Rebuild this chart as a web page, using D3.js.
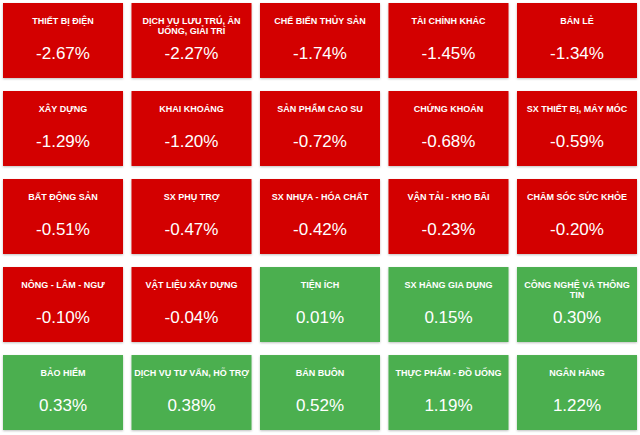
<!DOCTYPE html>
<html>
<head>
<meta charset="utf-8">
<script src="https://cdn.jsdelivr.net/npm/d3@7"></script>
<style>
  body { margin: 0; background: #fff; }
  svg { display: block; font-family: "Liberation Sans", Arial, sans-serif; }
</style>
</head>
<body>
<svg id="chart" width="640" height="435"></svg>
<script>
// sector names, in reading order (row by row)
const sectors = [
  "THIẾT BỊ ĐIỆN", "DỊCH VỤ LƯU TRÚ, ĂN UỐNG, GIẢI TRÍ", "CHẾ BIẾN THỦY SẢN", "TÀI CHÍNH KHÁC", "BÁN LẺ",
  "XÂY DỰNG", "KHAI KHOÁNG", "SẢN PHẨM CAO SU", "CHỨNG KHOÁN", "SX THIẾT BỊ, MÁY MÓC",
  "BẤT ĐỘNG SẢN", "SX PHỤ TRỢ", "SX NHỰA - HÓA CHẤT", "VẬN TẢI - KHO BÃI", "CHĂM SÓC SỨC KHỎE",
  "NÔNG - LÂM - NGƯ", "VẬT LIỆU XÂY DỰNG", "TIỆN ÍCH", "SX HÀNG GIA DỤNG", "CÔNG NGHỆ VÀ THÔNG TIN",
  "BẢO HIỂM", "DỊCH VỤ TƯ VẤN, HỖ TRỢ", "BÁN BUÔN", "THỰC PHẨM - ĐỒ UỐNG", "NGÂN HÀNG"
];
// daily change, %
const changes = [
  -2.67, -2.27, -1.74, -1.45, -1.34,
  -1.29, -1.20, -0.72, -0.68, -0.59,
  -0.51, -0.47, -0.42, -0.23, -0.20,
  -0.10, -0.04, 0.01, 0.15, 0.30,
  0.33, 0.38, 0.52, 1.19, 1.22
];
const nCols = 5;

const data = sectors.map((s, i) => ({
  name: s, value: changes[i],
  col: i % nCols, row: Math.floor(i / nCols)
}));

const svg = d3.select("#chart");

const x = d3.scaleBand()
  .domain(d3.range(nCols))
  .range([3, 637])
  .paddingInner(0.066);

const y = d3.scaleBand()
  .domain(d3.range(Math.ceil(data.length / nCols)))
  .range([3, 430])
  .paddingInner(0.148);

// soft shadow under each tile
const defs = svg.append("defs");
defs.append("filter")
    .attr("id", "shadow")
    .attr("x", "-10%").attr("y", "-10%")
    .attr("width", "120%").attr("height", "130%")
  .append("feDropShadow")
    .attr("dx", 0).attr("dy", 1)
    .attr("stdDeviation", 1.2)
    .attr("flood-color", "#000")
    .attr("flood-opacity", 0.25);

const color = v => v < 0 ? "#d30000" : "#4caf50";
const fmt = v => d3.format(".2f")(v).replace("\u2212", "-") + "%";

const tiles = svg.selectAll("g.tile")
  .data(data)
  .join("g")
    .attr("class", "tile")
    .attr("transform", d => `translate(${x(d.col)},${y(d.row)})`);

tiles.append("rect")
  .attr("width", x.bandwidth())
  .attr("height", y.bandwidth())
  .attr("fill", d => color(d.value))
  .attr("filter", "url(#shadow)");

// title, wrapped to the tile width
const title = tiles.append("text")
  .attr("text-anchor", "middle")
  .attr("fill", "#fff")
  .attr("font-size", 9)
  .attr("font-weight", "bold")
  .attr("transform", `translate(${x.bandwidth() / 2},21)`);

title.each(function(d) {
  const t = d3.select(this);
  const words = d.name.split(" ");
  let line = [];
  let lineNo = 0;
  let tspan = t.append("tspan").attr("x", 0).attr("y", 0);
  words.forEach(w => {
    line.push(w);
    tspan.text(line.join(" "));
    if (tspan.node().getComputedTextLength() > 118 && line.length > 1) {
      line.pop();
      tspan.text(line.join(" "));
      line = [w];
      lineNo++;
      tspan = t.append("tspan").attr("x", 0).attr("y", lineNo * 9.5).text(w);
    }
  });
});

tiles.append("text")
  .attr("text-anchor", "middle")
  .attr("x", x.bandwidth() / 2)
  .attr("y", 56)
  .attr("fill", "#fff")
  .attr("font-size", 17)
  .text(d => fmt(d.value));
</script>
</body>
</html>
